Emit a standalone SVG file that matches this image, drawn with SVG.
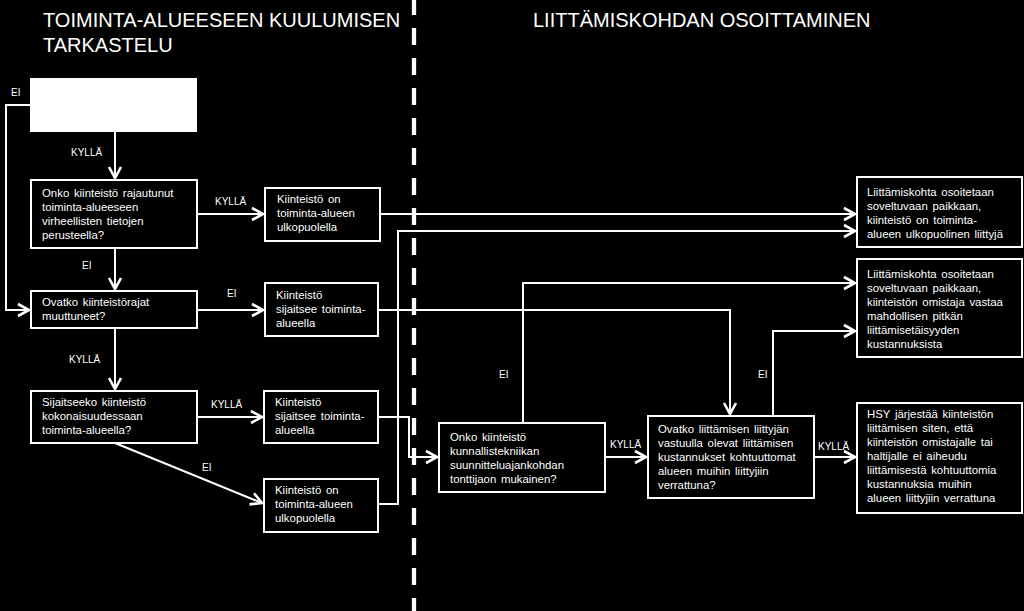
<svg xmlns="http://www.w3.org/2000/svg" width="1024" height="611" viewBox="0 0 1024 611">
<defs>
<style>
.bg{fill:#000}
.box{fill:#000;stroke:#fff;stroke-width:2}
.t{font-family:"Liberation Sans",Arial,sans-serif;font-size:11.4px;fill:#fff;word-spacing:1.5px}
.lbl{font-family:"Liberation Sans",Arial,sans-serif;font-size:10px;fill:#fff}
.title{font-family:"Liberation Sans",Arial,sans-serif;font-size:20px;fill:#fff}
.c{fill:none;stroke:#fff;stroke-width:2}
</style>
<marker id="ah" markerUnits="userSpaceOnUse" markerWidth="16" markerHeight="16" viewBox="-13 -8 16 16" refX="0" refY="0" orient="auto">
<path d="M-11,-6 L0,0 L-11,6" fill="none" stroke="#fff" stroke-width="2.6"/>
</marker>
</defs>
<rect class="bg" x="0" y="0" width="1024" height="611"/>

<g id="titles">
<text class="title" x="43" y="27">TOIMINTA-ALUEESEEN KUULUMISEN</text>
<text class="title" x="43" y="52">TARKASTELU</text>
<text class="title" x="533" y="27">LIITTÄMISKOHDAN OSOITTAMINEN</text>
</g>

<g id="divider">
<line x1="414" y1="-2" x2="414" y2="611" stroke="#fff" stroke-width="4.3" stroke-dasharray="17 13"/>
</g>

<g id="connectors">
<path class="c" d="M115,132 V178" marker-end="url(#ah)"/>
<path class="c" d="M197,214 H263" marker-end="url(#ah)"/>
<path class="c" d="M115,248 V289" marker-end="url(#ah)"/>
<path class="c" d="M30,105 H6 V310 H29" marker-end="url(#ah)"/>
<path class="c" d="M197,310 H263" marker-end="url(#ah)"/>
<path class="c" d="M115,328 V389" marker-end="url(#ah)"/>
<path class="c" d="M197,417 H262" marker-end="url(#ah)"/>
<path class="c" d="M115,443 L262,503" marker-end="url(#ah)"/>
<path class="c" d="M380,214 H855" marker-end="url(#ah)"/>
<path class="c" d="M378,504 H398 V231 H855" marker-end="url(#ah)"/>
<path class="c" d="M378,310 H730 V414" marker-end="url(#ah)"/>
<path class="c" d="M378,417 H409 V457 H437" marker-end="url(#ah)"/>
<path class="c" d="M523,423 V283 H855" marker-end="url(#ah)"/>
<path class="c" d="M605,457 H646" marker-end="url(#ah)"/>
<path class="c" d="M773,416 V331 H855" marker-end="url(#ah)"/>
<path class="c" d="M814,457 H855" marker-end="url(#ah)"/>
<text class="lbl" x="11" y="96">EI</text>
<text class="lbl" x="71" y="156">KYLLÄ</text>
<text class="lbl" x="215" y="205">KYLLÄ</text>
<text class="lbl" x="82" y="269">EI</text>
<text class="lbl" x="227" y="297">EI</text>
<text class="lbl" x="69" y="363">KYLLÄ</text>
<text class="lbl" x="211" y="408">KYLLÄ</text>
<text class="lbl" x="202" y="471">EI</text>
<text class="lbl" x="499" y="378">EI</text>
<text class="lbl" x="610" y="448">KYLLÄ</text>
<text class="lbl" x="758" y="378">EI</text>
<text class="lbl" x="818" y="450">KYLLÄ</text>
</g>

<g id="start">
<rect x="30" y="78" width="167" height="54" fill="#fff"/>
</g>

<g id="q1">
<rect class="box" x="31" y="180" width="166" height="68"/>
<text class="t" x="42" y="197">Onko kiinteistö rajautunut</text>
<text class="t" x="42" y="211">toiminta-alueeseen</text>
<text class="t" x="42" y="225">virheellisten tietojen</text>
<text class="t" x="42" y="239">perusteella?</text>
</g>

<g id="r1">
<rect class="box" x="265" y="188" width="115" height="53"/>
<text class="t" x="277" y="203">Kiinteistö on</text>
<text class="t" x="277" y="217">toiminta-alueen</text>
<text class="t" x="277" y="231">ulkopuolella</text>
</g>

<g id="q2">
<rect class="box" x="31" y="291" width="166" height="37"/>
<text class="t" x="42" y="306">Ovatko kiinteistörajat</text>
<text class="t" x="42" y="320">muuttuneet?</text>
</g>

<g id="r2">
<rect class="box" x="265" y="283" width="113" height="53"/>
<text class="t" x="276" y="299">Kiinteistö</text>
<text class="t" x="276" y="313">sijaitsee toiminta-</text>
<text class="t" x="276" y="327">alueella</text>
</g>

<g id="q3">
<rect class="box" x="31" y="391" width="166" height="52"/>
<text class="t" x="42" y="406">Sijaitseeko kiinteistö</text>
<text class="t" x="42" y="420">kokonaisuudessaan</text>
<text class="t" x="42" y="434">toiminta-alueella?</text>
</g>

<g id="r3">
<rect class="box" x="264" y="391" width="114" height="52"/>
<text class="t" x="275" y="406">Kiinteistö</text>
<text class="t" x="275" y="420">sijaitsee toiminta-</text>
<text class="t" x="275" y="434">alueella</text>
</g>

<g id="r4">
<rect class="box" x="264" y="479" width="114" height="53"/>
<text class="t" x="275" y="494">Kiinteistö on</text>
<text class="t" x="275" y="508">toiminta-alueen</text>
<text class="t" x="275" y="522">ulkopuolella</text>
</g>

<g id="q4">
<rect class="box" x="439" y="423" width="166" height="69"/>
<text class="t" x="450" y="441">Onko kiinteistö</text>
<text class="t" x="450" y="455">kunnallistekniikan</text>
<text class="t" x="450" y="469">suunnitteluajankohdan</text>
<text class="t" x="450" y="483">tonttijaon mukainen?</text>
</g>

<g id="q5">
<rect class="box" x="648" y="416" width="166" height="82"/>
<text class="t" x="658" y="433">Ovatko liittämisen liittyjän</text>
<text class="t" x="658" y="447">vastuulla olevat liittämisen</text>
<text class="t" x="658" y="461">kustannukset kohtuuttomat</text>
<text class="t" x="658" y="475">alueen muihin liittyjiin</text>
<text class="t" x="658" y="489">verrattuna?</text>
</g>

<g id="o1">
<rect class="box" x="857" y="177" width="165" height="70"/>
<text class="t" x="867" y="196">Liittämiskohta osoitetaan</text>
<text class="t" x="867" y="210">soveltuvaan paikkaan,</text>
<text class="t" x="867" y="224">kiinteistö on toiminta-</text>
<text class="t" x="867" y="238">alueen ulkopuolinen liittyjä</text>
</g>

<g id="o2">
<rect class="box" x="857" y="259" width="165" height="98"/>
<text class="t" x="867" y="278">Liittämiskohta osoitetaan</text>
<text class="t" x="867" y="292">soveltuvaan paikkaan,</text>
<text class="t" x="867" y="306">kiinteistön omistaja vastaa</text>
<text class="t" x="867" y="320">mahdollisen pitkän</text>
<text class="t" x="867" y="334">liittämisetäisyyden</text>
<text class="t" x="867" y="348">kustannuksista</text>
</g>

<g id="o3">
<rect class="box" x="857" y="403" width="165" height="110"/>
<text class="t" x="867" y="418">HSY järjestää kiinteistön</text>
<text class="t" x="867" y="432">liittämisen siten, että</text>
<text class="t" x="867" y="446">kiinteistön omistajalle tai</text>
<text class="t" x="867" y="460">haltijalle ei aiheudu</text>
<text class="t" x="867" y="474">liittämisestä kohtuuttomia</text>
<text class="t" x="867" y="488">kustannuksia muihin</text>
<text class="t" x="867" y="502">alueen liittyjiin verrattuna</text>
</g>
</svg>
